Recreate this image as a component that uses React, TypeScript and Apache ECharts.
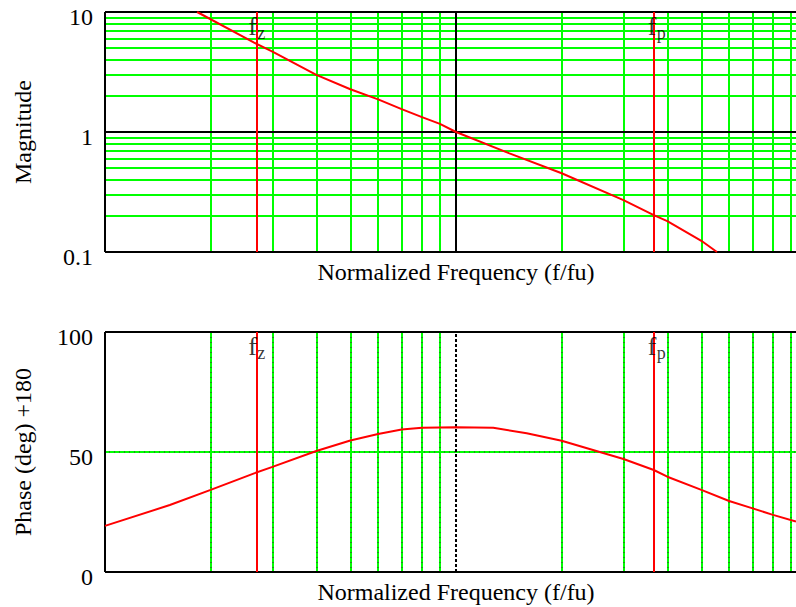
import React, { useEffect, useRef } from "react";
import * as echarts from "echarts";

// Normalized frequency of the compensator zero and pole
const fz = 0.266;
const fp = 3.66;

// Log-axis minor grid positions
const minorFreqs = [0.2, 0.3, 0.4, 0.5, 0.6, 0.7, 0.8, 0.9, 2, 3, 4, 5, 6, 7, 8, 9];
const minorMags = [0.2, 0.3, 0.4, 0.5, 0.6, 0.7, 0.8, 0.9, 2, 3, 4, 5, 6, 7, 8, 9];
const phaseGridValues = [50];

// Magnitude response (normalized to 1 at fu)
const magFreq = [0.183, 0.266, 0.3, 0.4, 0.5, 0.6, 0.7, 0.8, 0.9, 1, 1.42, 2, 3, 3.66, 4, 5, 5.54];
const magValues = [10, 5.55, 4.67, 2.99, 2.27, 1.87, 1.55, 1.33, 1.17, 1.0, 0.664, 0.453, 0.271, 0.203, 0.181, 0.124, 0.1];

// Phase response, degrees + 180
const phaseFreq = [0.1, 0.153, 0.2, 0.266, 0.3, 0.4, 0.5, 0.6, 0.7, 0.8, 0.9, 1, 1.277, 1.59, 2, 3, 3.66, 4, 5, 6, 7, 8, 9.3];
const phaseValues = [19.2, 27.9, 34.2, 41.1, 43.8, 50.4, 54.8, 57.5, 59.4, 60.1, 60.2, 60.3, 60.1, 57.8, 54.7, 47.1, 42.5, 39.7, 34.2, 29.6, 26.5, 23.8, 21.0];

const markers = [
  { freq: fz, sub: "z" },
  { freq: fp, sub: "p" },
];

const SERIF = '"Liberation Serif", "Times New Roman", Times, serif';
const GREEN = "#00ff00";
const RED = "#ff0000";
const BLACK = "#000000";
const FONT = 24;

type LS = Record<string, unknown>;
const vLines = (vals: number[], style: LS) => vals.map((v) => ({ xAxis: v, lineStyle: style }));
const hLines = (vals: number[], style: LS) => vals.map((v) => ({ yAxis: v, lineStyle: style }));

function lineLayer(name: string, idx: number, lines: unknown[], z: number) {
  return {
    type: "line",
    name,
    xAxisIndex: idx,
    yAxisIndex: idx,
    data: [],
    z,
    silent: true,
    markLine: {
      silent: true,
      symbol: ["none", "none"],
      label: { show: false },
      emphasis: { disabled: true },
      animation: false,
      data: lines,
    },
  };
}

// "f" with a subscript letter, anchored at the top of each marker line
function markerLabels(idx: number, top: number) {
  const base = {
    type: "scatter",
    xAxisIndex: idx,
    yAxisIndex: idx,
    symbolSize: 0,
    silent: true,
    z: 20,
    data: markers.map((m) => ({ value: [m.freq, top], name: m.sub })),
  };
  return [
    {
      ...base,
      label: {
        show: true,
        position: [-6, 1],
        align: "left",
        verticalAlign: "top",
        formatter: "f",
        fontSize: 26,
        fontFamily: SERIF,
        color: BLACK,
      },
    },
    {
      ...base,
      label: {
        show: true,
        position: [3, 12],
        align: "left",
        verticalAlign: "top",
        formatter: (p: { name: string }) => p.name,
        fontSize: 18,
        fontFamily: SERIF,
        color: BLACK,
      },
    },
  ];
}

const solid = (color: string, width = 2) => ({ color, width, type: "solid" });
const dashed = (color: string, dash: number[], width = 2) => ({ color, width, type: dash });

function buildOption() {
  const xAxisBase = {
    type: "log",
    logBase: 10,
    min: 0.1,
    max: 10,
    axisLine: { show: false },
    axisTick: { show: false },
    axisLabel: { show: false },
    splitLine: { show: false },
    nameLocation: "middle",
    nameGap: 8,
    nameTextStyle: { fontSize: FONT, fontFamily: SERIF, color: BLACK },
    name: "Normalized Frequency (f/fu)",
  };
  const yLabel = {
    fontSize: FONT,
    fontFamily: SERIF,
    color: BLACK,
    margin: 12,
    verticalAlign: "top",
    lineHeight: 10,
  };
  const yNameStyle = { fontSize: FONT, fontFamily: SERIF, color: BLACK };

  return {
    animation: false,
    backgroundColor: "#ffffff",
    grid: [
      { left: 105, top: 12, width: 702, height: 240 },
      { left: 105, top: 332, width: 702, height: 240 },
    ],
    xAxis: [
      { ...xAxisBase, gridIndex: 0 },
      { ...xAxisBase, gridIndex: 1 },
    ],
    yAxis: [
      {
        gridIndex: 0,
        type: "log",
        logBase: 10,
        min: 0.1,
        max: 10,
        axisLine: { show: false },
        axisTick: { show: false },
        splitLine: { show: false },
        axisLabel: { ...yLabel, formatter: (v: number) => (v < 1 ? "0.1" : String(Math.round(v))) },
        name: "Magnitude",
        nameLocation: "middle",
        nameGap: 70,
        nameTextStyle: yNameStyle,
      },
      {
        gridIndex: 1,
        type: "value",
        min: 0,
        max: 100,
        interval: 50,
        axisLine: { show: false },
        axisTick: { show: false },
        splitLine: { show: false },
        axisLabel: yLabel,
        name: "Phase (deg) +180",
        nameLocation: "middle",
        nameGap: 70,
        nameTextStyle: yNameStyle,
      },
    ],
    series: [
      // Magnitude panel grid
      lineLayer("magMinor", 0, [...vLines(minorFreqs, solid(GREEN)), ...hLines(minorMags, solid(GREEN))], 1),
      lineLayer(
        "magMajor",
        0,
        [...vLines([0.1, 1], solid(BLACK)), ...hLines([0.1, 1, 10], solid(BLACK))],
        2
      ),
      lineLayer("magMarkers", 0, vLines(markers.map((m) => m.freq), solid(RED)), 3),
      {
        type: "line",
        name: "Magnitude",
        xAxisIndex: 0,
        yAxisIndex: 0,
        data: magFreq.map((f, i) => [f, magValues[i]]),
        showSymbol: false,
        symbol: "none",
        lineStyle: { color: RED, width: 2 },
        z: 10,
        silent: true,
      },
      ...markerLabels(0, 10),

      // Phase panel grid
      lineLayer(
        "phaseMinorUnder",
        1,
        [...vLines(minorFreqs, solid("#1f8f1f")), ...hLines(phaseGridValues, solid("#1f8f1f"))],
        1
      ),
      lineLayer(
        "phaseMinor",
        1,
        [...vLines(minorFreqs, dashed(GREEN, [4, 1])), ...hLines(phaseGridValues, dashed(GREEN, [4, 1]))],
        2
      ),
      lineLayer(
        "phaseMajor",
        1,
        [
          ...vLines([0.1], solid(BLACK)),
          ...vLines([1], dashed(BLACK, [3, 2])),
          ...hLines([0, 100], solid(BLACK)),
        ],
        3
      ),
      lineLayer("phaseMarkers", 1, vLines(markers.map((m) => m.freq), solid(RED)), 4),
      {
        type: "line",
        name: "Phase",
        xAxisIndex: 1,
        yAxisIndex: 1,
        data: phaseFreq.map((f, i) => [f, phaseValues[i]]),
        showSymbol: false,
        symbol: "none",
        lineStyle: { color: RED, width: 2 },
        z: 10,
        silent: true,
      },
      ...markerLabels(1, 100),
    ],
  };
}

export default function App() {
  const ref = useRef<HTMLDivElement>(null);

  useEffect(() => {
    if (!ref.current) return;
    const chart = echarts.init(ref.current, undefined, { renderer: "svg" });
    chart.setOption(buildOption() as echarts.EChartsOption);
    return () => chart.dispose();
  }, []);

  // The plot runs up to f/fu = 10, a little past the right edge of the view
  return (
    <div
      style={{
        position: "fixed",
        left: 0,
        top: 0,
        width: 796,
        height: 607,
        overflow: "hidden",
        background: "#fff",
      }}
    >
      <div ref={ref} style={{ width: 820, height: 607 }} />
    </div>
  );
}
